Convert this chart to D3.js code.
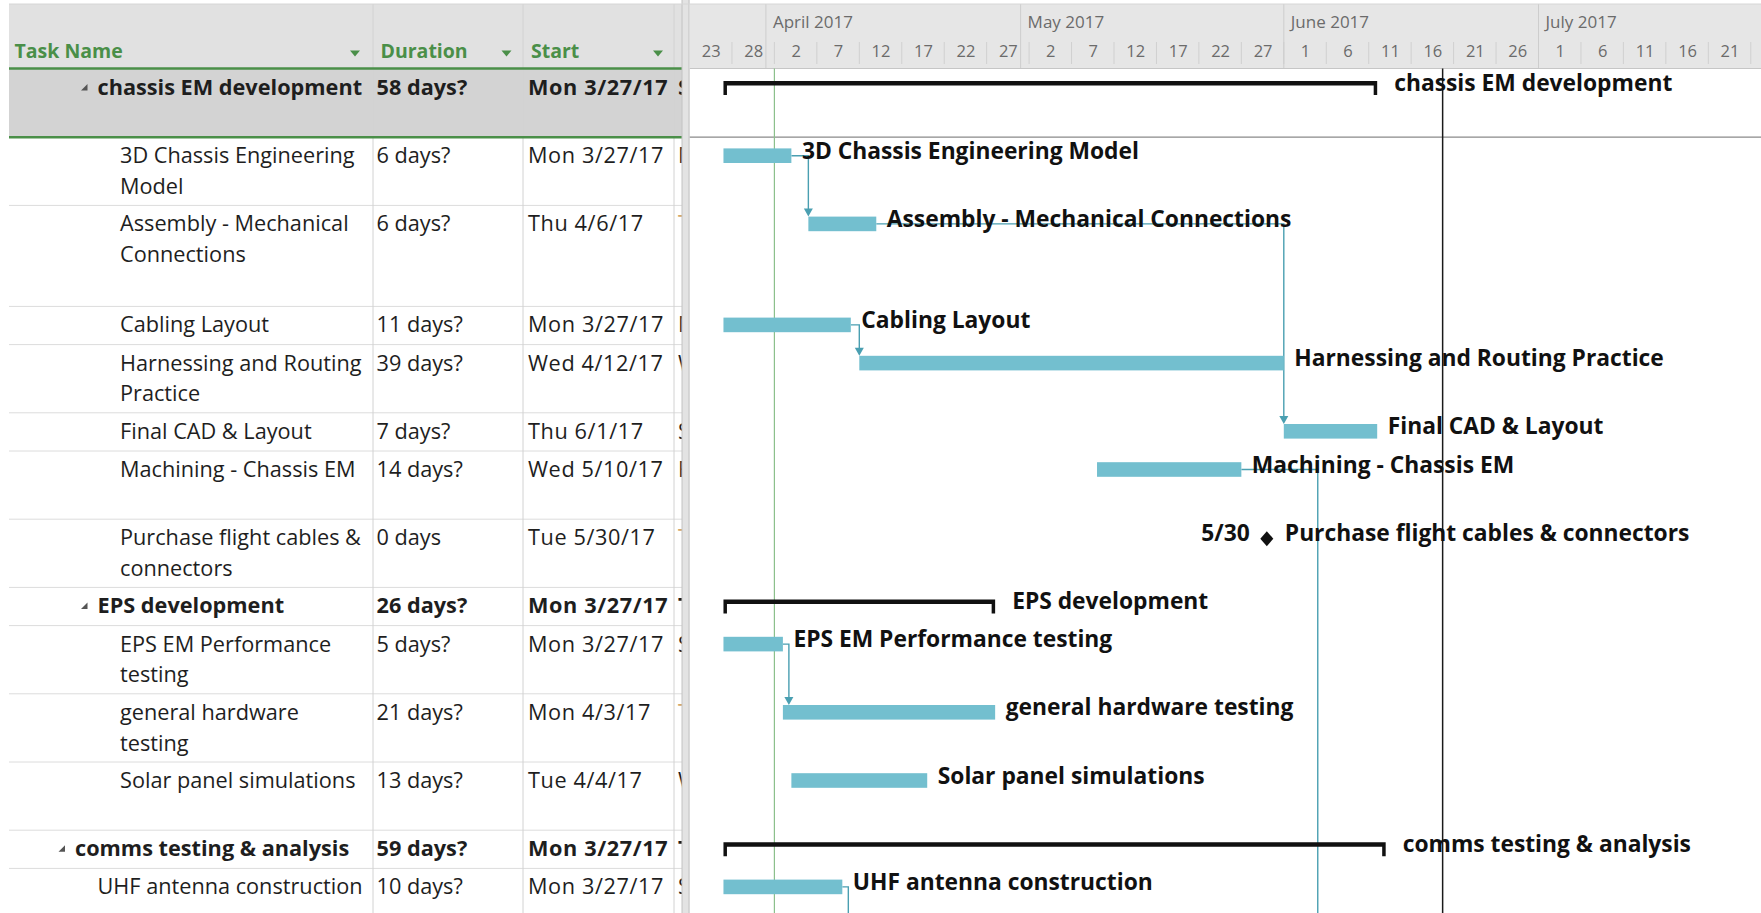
<!DOCTYPE html>
<html lang="en">
<head>
<meta charset="UTF-8">
<title>Gantt Chart</title>
<script src="https://d3js.org/d3.v7.min.js"></script>
<style>
  body { margin: 0; background: #fff; }
  svg { display: block; }
</style>
</head>
<body>
<div id="gantt"></div>
<script>
  // Task table (line breaks as the table wraps them)
  const taskNames = [
    "chassis EM development", "3D Chassis Engineering\nModel", "Assembly - Mechanical\nConnections",
    "Cabling Layout", "Harnessing and Routing\nPractice", "Final CAD & Layout", "Machining - Chassis EM",
    "Purchase flight cables &\nconnectors", "EPS development", "EPS EM Performance\ntesting",
    "general hardware\ntesting", "Solar panel simulations", "comms testing & analysis", "UHF antenna construction"
  ];
  const outlineLevels = [2, 3, 3, 3, 3, 3, 3, 3, 2, 3, 3, 3, 1, 2];
  const taskTypes = ["summary", "task", "task", "task", "task", "task", "task", "milestone",
                     "summary", "task", "task", "task", "summary", "task"];
  const durations = ["58 days?", "6 days?", "6 days?", "11 days?", "39 days?", "7 days?", "14 days?",
                     "0 days", "26 days?", "5 days?", "21 days?", "13 days?", "59 days?", "10 days?"];
  const startTexts = ["Mon 3/27/17", "Mon 3/27/17", "Thu 4/6/17", "Mon 3/27/17", "Wed 4/12/17", "Thu 6/1/17",
                      "Wed 5/10/17", "Tue 5/30/17", "Mon 3/27/17", "Mon 3/27/17", "Mon 4/3/17", "Tue 4/4/17",
                      "Mon 3/27/17", "Mon 3/27/17"];
  // the Finish column is cut off, only its first letter shows
  const finishInitials = ["S", "M", "T", "M", "W", "S", "F", "T", "T", "S", "T", "W", "T", "S"];
  const finishFlagged = [false, false, true, false, false, false, false, true, false, false, true, false, false, false];

  // Bars
  const barStarts = ["2017-03-27", "2017-03-27", "2017-04-06", "2017-03-27", "2017-04-12", "2017-06-01",
                     "2017-05-10", "2017-05-30", "2017-03-27", "2017-03-27", "2017-04-03", "2017-04-04",
                     "2017-03-27", "2017-03-27"];
  const barEnds = ["2017-06-12", "2017-04-04", "2017-04-14", "2017-04-11", "2017-06-01", "2017-06-12",
                   "2017-05-27", "2017-05-30", "2017-04-28", "2017-04-03", "2017-04-28", "2017-04-20",
                   "2017-06-13", "2017-04-10"];

  // Links: predecessor -> successor (null = task below the visible rows)
  const linkFrom = [1, 3, 2, 9, 6, 13];
  const linkTo = [2, 4, 5, 10, null, null];
  const linkTargetDates = [null, null, null, null, "2017-06-05", null];

  // Timescale
  const timescaleStart = "2017-03-23";
  const months = ["April 2017", "May 2017", "June 2017", "July 2017"];
  const monthStarts = ["2017-04-01", "2017-05-01", "2017-06-01", "2017-07-01"];
  const statusDate = "2017-04-02";
  const markerDate = "2017-06-19T17:00Z";

  // Layout
  const W = 1761, H = 913;
  const rowLines = [2, 2, 3, 1, 2, 1, 2, 2, 1, 2, 2, 2, 1, 2];
  const lineHeights = { 1: 38.2, 2: 68.2, 3: 101 };
  const headerTop = 4, headerBottom = 68.5, firstRow = 69;
  const tableLeft = 9, colDur = 373, colStart = 523, colFinish = 674, tableRight = 682;
  const ganttLeft = 689.5, pxPerDay = 8.49;
  const green = "#4a8f48", barColor = "#73bfcf", linkColor = "#4a9fb1";
  const tableFont = "'Open Sans', 'Segoe UI', sans-serif";
  const labelSize = 22.8;

  const heights = rowLines.map(n => lineHeights[n]);
  const rowTops = [firstRow, ...Array.from(d3.cumsum(heights)).map(v => firstRow + v)];

  const tasks = taskNames.map((name, i) => ({
    i, name, level: outlineLevels[i], type: taskTypes[i],
    duration: durations[i], start: startTexts[i],
    finish: finishInitials[i], flagged: finishFlagged[i],
    s: d3.isoParse(barStarts[i]), e: d3.isoParse(barEnds[i]),
    top: rowTops[i], h: heights[i]
  }));

  const t0 = d3.isoParse(timescaleStart);
  const x = d3.scaleUtc()
    .domain([t0, d3.utcDay.offset(t0, 130)])
    .range([ganttLeft, ganttLeft + 130 * pxPerDay]);

  const svg = d3.select("#gantt").append("svg")
    .attr("width", W).attr("height", H);

  // ---------- table ----------
  svg.append("clipPath").attr("id", "tableClip")
    .append("rect").attr("x", tableLeft).attr("y", 0).attr("width", tableRight - tableLeft).attr("height", H);

  const table = svg.append("g").attr("clip-path", "url(#tableClip)");

  table.append("rect")
    .attr("x", tableLeft).attr("y", headerTop)
    .attr("width", tableRight - tableLeft).attr("height", headerBottom - headerTop)
    .attr("fill", "#e1e1e1");

  // selected row
  table.append("rect")
    .attr("x", tableLeft).attr("y", tasks[0].top)
    .attr("width", tableRight - tableLeft).attr("height", tasks[0].h)
    .attr("fill", "#d3d3d3");

  // row lines
  table.selectAll(".rowline")
    .data(tasks.slice(1))
    .join("line")
    .attr("x1", tableLeft).attr("x2", tableRight)
    .attr("y1", d => d.top + d.h).attr("y2", d => d.top + d.h)
    .attr("stroke", "#dcdcdc");

  // column separators
  table.selectAll(".colline")
    .data([colDur, colStart, colFinish])
    .join("line")
    .attr("x1", d => d).attr("x2", d => d)
    .attr("y1", headerTop).attr("y2", H)
    .attr("stroke", "#d2d2d2");

  // green lines around the selected row
  table.selectAll(".greenline")
    .data([headerBottom, tasks[0].top + tasks[0].h])
    .join("line")
    .attr("x1", tableLeft).attr("x2", tableRight)
    .attr("y1", d => d).attr("y2", d => d)
    .attr("stroke", green).attr("stroke-width", 2.5);

  // header
  const headers = [
    { label: "Task Name", x: 14.5, arrow: 355 },
    { label: "Duration", x: 380.5, arrow: 506.5 },
    { label: "Start", x: 531, arrow: 658 }
  ];
  table.selectAll(".hdr")
    .data(headers)
    .join("text")
    .attr("x", d => d.x).attr("y", 57.5)
    .attr("font-family", tableFont).attr("font-size", 19.5).attr("font-weight", 700)
    .attr("fill", green)
    .text(d => d.label);
  table.selectAll(".hdrArrow")
    .data(headers)
    .join("path")
    .attr("d", d => `M${d.arrow - 5},50.5 L${d.arrow + 5},50.5 L${d.arrow},56.5 Z`)
    .attr("fill", green);

  const rows = table.selectAll(".row")
    .data(tasks)
    .join("g")
    .attr("font-family", tableFont).attr("font-size", 21.7)
    .attr("fill", "#1e1e1e")
    .attr("font-weight", d => d.type === "summary" ? 700 : 400);

  const textX = d => 52.5 + d.level * 22.5;
  const baseY = d => d.top + 26;

  rows.append("text")
    .attr("y", baseY)
    .each(function (d) {
      d3.select(this).selectAll("tspan")
        .data(d.name.split("\n"))
        .join("tspan")
        .attr("x", textX(d))
        .attr("dy", (l, k) => k === 0 ? 0 : 30.8)
        .text(l => l);
    });

  rows.filter(d => d.type === "summary").append("path")
    .attr("d", d => {
      const r = textX(d) - 10, c = d.top + 18.5;
      return `M${r},${c - 3.5} L${r},${c + 3} L${r - 6.5},${c + 3} Z`;
    })
    .attr("fill", "#555");

  rows.append("text").attr("x", colDur + 3.5).attr("y", baseY).text(d => d.duration);
  rows.append("text").attr("x", colStart + 5).attr("y", baseY)
    .attr("letter-spacing", 0.6)
    .text(d => d.start);
  rows.append("text").attr("x", colFinish + 4).attr("y", baseY)
    .attr("fill", d => d.flagged ? "#d3a76b" : "#1e1e1e")
    .text(d => d.finish);

  // splitter
  svg.append("rect").attr("x", tableRight).attr("y", 0)
    .attr("width", ganttLeft - tableRight).attr("height", H).attr("fill", "#e3e3e3");
  svg.selectAll(".split")
    .data([tableRight, ganttLeft - 0.5])
    .join("line")
    .attr("x1", d => d).attr("x2", d => d).attr("y1", 0).attr("y2", H)
    .attr("stroke", "#c2c2c2");

  // ---------- gantt ----------
  svg.append("clipPath").attr("id", "ganttClip")
    .append("rect").attr("x", ganttLeft).attr("y", 0).attr("width", W - ganttLeft).attr("height", H);
  const gantt = svg.append("g").attr("clip-path", "url(#ganttClip)");

  gantt.append("rect")
    .attr("x", ganttLeft).attr("y", headerTop)
    .attr("width", W - ganttLeft).attr("height", headerBottom - headerTop)
    .attr("fill", "#e6e6e6");

  const monthData = months.map((m, i) => ({ label: m, date: d3.isoParse(monthStarts[i]) }));
  const tickDates = d3.utcDay.range(t0, d3.utcDay.offset(t0, 130), 5);

  // minor tier separators
  gantt.selectAll(".daysep")
    .data(tickDates.slice(1))
    .join("line")
    .attr("x1", d => x(d)).attr("x2", d => x(d))
    .attr("y1", 42).attr("y2", 64)
    .attr("stroke", "#d0d0d0");

  // month separators
  gantt.selectAll(".monsep")
    .data(monthData)
    .join("line")
    .attr("x1", d => x(d.date)).attr("x2", d => x(d.date))
    .attr("y1", headerTop).attr("y2", headerBottom)
    .attr("stroke", "#cdcdcd");

  gantt.selectAll(".month")
    .data(monthData)
    .join("text")
    .attr("x", d => x(d.date) + 7).attr("y", 27.5)
    .attr("font-family", tableFont).attr("font-size", 17)
    .attr("fill", "#6b6b6b")
    .text(d => d.label);

  // day tier: labels centred in each 5-day column, only columns that fit in the view
  const dayFmt = d3.utcFormat("%-d");
  const centres = tickDates.map(d => d3.utcHour.offset(d, 60)).filter(c => x(c) + 12 < W);
  const dayAxis = d3.axisBottom(x)
    .tickValues(centres)
    .tickFormat(d => dayFmt(d3.utcHour.offset(d, -60)))
    .tickSize(0);
  const dayG = gantt.append("g").call(dayAxis)
    .attr("font-family", tableFont).attr("font-size", 16.5)
    .style("color", "#6b6b6b");
  dayG.select(".domain").remove();
  dayG.selectAll("text").attr("y", 56.5).attr("dy", null);

  gantt.append("line")
    .attr("x1", ganttLeft).attr("x2", W).attr("y1", headerBottom).attr("y2", headerBottom)
    .attr("stroke", "#c6c6c6");
  gantt.append("line")
    .attr("x1", ganttLeft).attr("x2", W)
    .attr("y1", tasks[0].top + tasks[0].h).attr("y2", tasks[0].top + tasks[0].h)
    .attr("stroke", "#8a8a8a").attr("stroke-width", 1.3);

  // status and marker lines
  gantt.append("line")
    .attr("x1", x(d3.isoParse(statusDate))).attr("x2", x(d3.isoParse(statusDate)))
    .attr("y1", headerBottom).attr("y2", H)
    .attr("stroke", "#8cc08c").attr("stroke-width", 1.2);
  gantt.append("line")
    .attr("x1", x(d3.isoParse(markerDate))).attr("x2", x(d3.isoParse(markerDate)))
    .attr("y1", headerBottom).attr("y2", H)
    .attr("stroke", "#1a1a1a").attr("stroke-width", 1.5);

  // links
  const barTop = d => d.top + 11.2;
  const barMid = d => d.top + 18.5;
  const links = linkFrom.map((f, k) => {
    const p = tasks[f];
    const s = linkTo[k] === null ? null : tasks[linkTo[k]];
    const target = s ? s.s : (linkTargetDates[k] ? d3.isoParse(linkTargetDates[k]) : null);
    const x0 = x(p.e);
    const vx = target ? Math.max(x(target), x0 + 6) : x0 + 6;
    const yEnd = s ? barTop(s) : H + 5;
    return { x0, y0: barMid(p), vx, yEnd, arrow: !!s };
  });
  gantt.selectAll(".link")
    .data(links)
    .join("path")
    .attr("d", d => `M${d.x0},${d.y0} H${d.vx} V${d.arrow ? d.yEnd - 6 : d.yEnd}`)
    .attr("fill", "none").attr("stroke", linkColor).attr("stroke-width", 1.4);
  gantt.selectAll(".arrow")
    .data(links.filter(d => d.arrow))
    .join("path")
    .attr("d", d => `M${d.vx - 4.5},${d.yEnd - 8} L${d.vx + 4.5},${d.yEnd - 8} L${d.vx},${d.yEnd} Z`)
    .attr("fill", linkColor);

  // task bars
  gantt.selectAll(".bar")
    .data(tasks.filter(d => d.type === "task"))
    .join("rect")
    .attr("x", d => x(d.s)).attr("y", barTop)
    .attr("width", d => x(d.e) - x(d.s)).attr("height", 14.6)
    .attr("fill", barColor);

  // summary brackets
  gantt.selectAll(".summary")
    .data(tasks.filter(d => d.type === "summary"))
    .join("path")
    .attr("d", d => {
      const a = x(d.s), b = x(d.e), t = d.top + 12, m = t + 4.6, bot = d.top + 26;
      return `M${a},${t} H${b} V${bot} H${b - 3.5} V${m} H${a + 3.5} V${bot} H${a} Z`;
    })
    .attr("fill", "#111");

  // milestones
  const miles = tasks.filter(d => d.type === "milestone");
  gantt.selectAll(".mile")
    .data(miles)
    .join("path")
    .attr("d", d => {
      const cx = x(d.s), cy = d.top + 19.5;
      return `M${cx},${cy - 7.5} L${cx + 6.5},${cy} L${cx},${cy + 7.5} L${cx - 6.5},${cy} Z`;
    })
    .attr("fill", "#111");
  const mdFmt = d3.utcFormat("%-m/%-d");
  gantt.selectAll(".mileDate")
    .data(miles)
    .join("text")
    .attr("x", d => x(d.s) - 17).attr("y", d => d.top + 22)
    .attr("text-anchor", "end")
    .attr("font-family", tableFont).attr("font-size", labelSize).attr("font-weight", 700)
    .attr("fill", "#111")
    .text(d => mdFmt(d.s));

  // bar labels
  gantt.selectAll(".label")
    .data(tasks)
    .join("text")
    .attr("x", d => d.type === "summary" ? x(d.e) + 17 : d.type === "milestone" ? x(d.s) + 18 : x(d.e) + 10.5)
    .attr("y", d => d.top + 21.5)
    .attr("font-family", tableFont).attr("font-size", labelSize).attr("font-weight", 700)
    .attr("fill", "#111")
    .text(d => d.name.replace("\n", " "));

  // thin top border
  svg.append("line").attr("x1", tableLeft).attr("x2", W).attr("y1", headerTop).attr("y2", headerTop)
    .attr("stroke", "#d6d6d6");
</script>
</body>
</html>
